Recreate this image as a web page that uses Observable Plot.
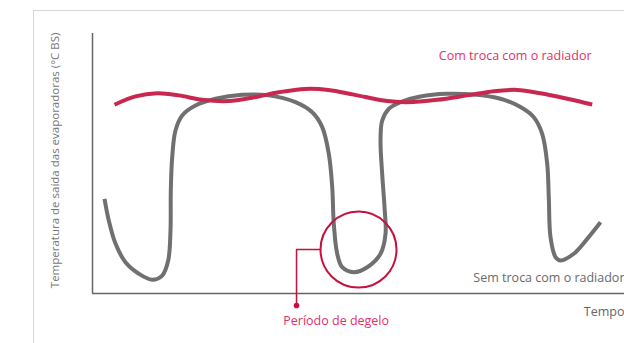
<!DOCTYPE html>
<html>
<head>
<meta charset="utf-8">
<script src="https://cdn.jsdelivr.net/npm/d3@7"></script>
<script src="https://cdn.jsdelivr.net/npm/@observablehq/plot@0.6"></script>
<style>
  html, body { margin: 0; padding: 0; background: #fff; }
  #wrap { position: relative; width: 624px; height: 343px; overflow: hidden; }
  #frame { position: absolute; left: 33px; top: 10px; width: 600px; height: 400px;
           border-top: 1.5px solid #d8d8d8; border-left: 1.5px solid #d8d8d8; }
  #chart { position: absolute; left: 0; top: 0; }
  svg { font-family: "Open Sans", sans-serif; }
</style>
</head>
<body>
<div id="wrap"><div id="frame"></div><div id="chart"></div></div>
<script>
// Time axis (0–100, arbitrary units) and temperature (0–100, arbitrary units)
const redTime  = [4.14, 8.08, 12.16, 16.22, 20.62, 25.62, 30.02, 35.02, 40.04, 44.36, 49.12, 55.39, 59.15, 64.79, 70.43, 75.43, 79.83, 84.21, 89.23, 93.93];
const redTemp  = [72.6, 75.8, 77.0, 76.2, 74.5, 74.0, 75.3, 77.4, 78.7, 78.3, 76.5, 74.0, 73.6, 74.5, 76.2, 77.8, 78.3, 77.0, 74.9, 72.7];

const grayTime = [2.26, 3.06, 4.32, 6.20, 8.70, 11.22, 13.10, 14.23, 14.66, 14.72, 14.98, 15.60, 16.86, 19.36, 23.12, 28.14, 33.14, 38.16, 41.30, 43.18,
                  44.42, 45.06, 45.36, 46.00, 46.94, 49.12, 51.64, 54.14, 55.08, 54.89, 54.45, 54.14, 54.45, 55.70, 57.89, 61.65, 66.67, 71.67, 76.69, 80.45,
                  82.95, 84.53, 85.47, 85.77, 86.09, 87.03, 87.97, 90.47, 92.99, 95.49];
const grayTemp = [36.4, 28.1, 19.2, 12.0, 7.6, 5.3, 6.9, 12.7, 24.2, 39.6, 52.4, 62.7, 68.5, 72.3, 74.9, 76.4, 76.2, 73.6, 69.7, 64.0,
                  53.7, 40.9, 26.8, 15.3, 10.1, 8.2, 10.1, 15.3, 23.0, 33.2, 46.0, 58.8, 66.5, 71.0, 73.6, 75.8, 76.8, 76.5, 74.9, 71.7,
                  67.8, 61.4, 49.9, 37.0, 21.7, 14.0, 12.7, 15.3, 21.0, 27.4];

// Defrost period highlight
const defrostCenter = {t: 50.0, T: 16.9};
const calloutPath = [{t: 38.35, T: -4.6}, {t: 38.35, T: 16.9}, {t: 42.86, T: 16.9}];

const labels = {
  yAxis: "Temperatura de saída das evaporadoras (°C BS)",
  xAxis: "Tempo",
  withRad: "Com troca com o radiador",
  withoutRad: "Sem troca com o radiador",
  defrost: "Período de degelo"
};

const red = redTime.map((t, i) => ({t, T: redTemp[i]}));
const gray = grayTime.map((t, i) => ({t, T: grayTemp[i]}));

const RED_LINE = "#c8284f", RED_DARK = "#c8103e", RED_TEXT = "#e2306a", GRAY = "#707070", AXIS = "#666";

const chart = Plot.plot({
  width: 624,
  height: 343,
  marginLeft: 92,
  marginRight: 0,
  marginTop: 33,
  marginBottom: 50,
  x: {domain: [0, 100], axis: null},
  y: {domain: [0, 100], axis: null},
  style: {fontFamily: "'Open Sans', sans-serif", overflow: "visible"},
  marks: [
    Plot.ruleX([0], {y1: 0, y2: 100, stroke: AXIS, strokeWidth: 1.5}),
    Plot.ruleY([0], {x1: 0, x2: 100, stroke: AXIS, strokeWidth: 1.5}),
    Plot.line(gray, {x: "t", y: "T", curve: "catmull-rom", stroke: GRAY, strokeWidth: 4, strokeLinecap: "butt"}),
    Plot.line(red, {x: "t", y: "T", curve: "catmull-rom", stroke: RED_LINE, strokeWidth: 4, strokeLinecap: "butt"}),
    Plot.dot([defrostCenter], {x: "t", y: "T", r: 38, fill: "none", stroke: RED_DARK, strokeWidth: 2}),
    Plot.line(calloutPath, {x: "t", y: "T", stroke: RED_DARK, strokeWidth: 1.5}),
    Plot.dot([calloutPath[0]], {x: "t", y: "T", r: 2.8, fill: RED_DARK, stroke: "none"}),
    Plot.text([labels.defrost], {x: 45.8, y: -10.4, text: d => d, fill: RED_TEXT, fontSize: 12.5, textAnchor: "middle"}),
    Plot.text([labels.withRad], {x: 93.8, y: 91.5, text: d => d, fill: RED_TEXT, fontSize: 12.5, textAnchor: "end"}),
    Plot.text([labels.withoutRad], {x: 100, y: 5.8, text: d => d, fill: "#6a6a6a", fontSize: 12.5, textAnchor: "end"}),
    Plot.text([labels.xAxis], {x: 100, y: -7.3, text: d => d, fill: "#666", fontSize: 12.5, textAnchor: "end"}),
    Plot.text([labels.yAxis], {x: -6.95, y: 51.2, text: d => d, fill: "#777", fontSize: 11.5, rotate: -90, textAnchor: "middle"})
  ]
});
document.getElementById("chart").appendChild(chart);
</script>
</body>
</html>
